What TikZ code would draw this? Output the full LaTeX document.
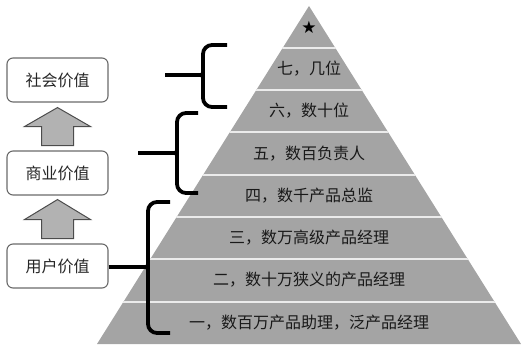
\documentclass[tikz,border=0pt]{standalone}
\usepackage{fontspec}
\setmainfont{Noto Sans CJK SC}
\newfontfamily\symfont{DejaVu Sans}
\usetikzlibrary{positioning,calc}

\definecolor{pyrgray}{HTML}{A4A4A4}
\definecolor{arrgray}{HTML}{B2B2B2}
\definecolor{boxline}{HTML}{6A6A6A}

\begin{document}
\begin{tikzpicture}[
        x=1pt, y=-1pt,
        valuebox/.style={draw=boxline, line width=1.1, rounded corners=6,
            fill=white, minimum width=101, minimum height=44,
            font=\fontsize{16}{19}\selectfont, text=black!85},
        layer/.style={font=\fontsize{16}{19}\selectfont, text=black!90},
        sep/.style={draw=white!92!black, line width=2},
        uparrow/.style={draw=black!70, line width=1, fill=arrgray},
        bracket/.style={draw=black, line width=3.8, rounded corners=9}
    ]
        \useasboundingbox (0,0) rectangle (522,345);

        % pyramid
        \coordinate (top) at (309,6);
        \coordinate (bl) at (97,344);
        \coordinate (br) at (521,344);
        \fill[pyrgray] (top) -- (bl) -- (br) -- cycle;
        \begin{scope}
            \clip (top) -- (bl) -- (br) -- cycle;
            \foreach \y in {48,90,132,175,217,259,302}
                \draw[sep] (90,\y) -- (530,\y);
        \end{scope}

        \node (star) at (309,27) {\symfont\fontsize{17}{17}\selectfont ★};
        \node[layer] (l7) at (309,69) {七，几位};
        \node[layer] (l6) at (309,111) {六，数十位};
        \node[layer] (l5) at (309,154) {五，数百负责人};
        \node[layer] (l4) at (309,196) {四，数千产品总监};
        \node[layer] (l3) at (309,238) {三，数万高级产品经理};
        \node[layer] (l2) at (309,280) {二，数十万狭义的产品经理};
        \node[layer] (l1) at (309,323) {一，数百万产品助理，泛产品经理};

        % value boxes
        \node[valuebox] (soc) at (57.5,80) {社会价值};
        \node[valuebox] (biz) at (57.5,173) {商业价值};
        \node[valuebox] (usr) at (57.5,266) {用户价值};

        \draw[uparrow] ($(soc.south)+(0,5)$) -- ++(33,19) -- ++(-17,0) -- ++(0,19)
            -- ++(-32,0) -- ++(0,-19) -- ++(-17,0) -- cycle;
        \draw[uparrow] ($(biz.south)+(0,4)$) -- ++(33,20) -- ++(-17,0) -- ++(0,19)
            -- ++(-32,0) -- ++(0,-19) -- ++(-17,0) -- cycle;

        % braces
        \coordinate (c1) at (197,75);
        \coordinate (c2) at (171,153);
        \coordinate (c3) at (142,267);
        \coordinate (f1) at (165,75);
        \coordinate (f2) at (138,153);

        \draw[bracket] (227,45) -- (203,45) -- (203,71) .. controls (203,75) .. (c1);
        \draw[bracket] (227,107) -- (203,107) -- (203,79) .. controls (203,75) .. (c1);
        \draw[bracket] (198,113) -- (177,113) -- (177,149) .. controls (177,153) .. (c2);
        \draw[bracket] (198,193) -- (177,193) -- (177,157) .. controls (177,153) .. (c2);
        \draw[bracket] (170,202) -- (148,202) -- (148,263) .. controls (148,267) .. (c3);
        \draw[bracket] (170,333) -- (148,333) -- (148,271) .. controls (148,267) .. (c3);

        \draw[bracket] (f1) -- (c1);
        \draw[bracket] (f2) -- (c2);
        \draw[bracket] (usr.east |- c3) -- (c3);
    \end{tikzpicture}
\end{document}
